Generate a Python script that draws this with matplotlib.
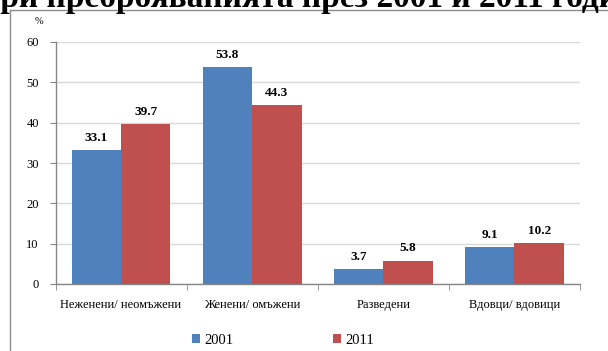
import matplotlib
matplotlib.use("Agg")
import matplotlib.pyplot as plt
from matplotlib.lines import Line2D
import numpy as np

categories = ["Неженени/ неомъжени", "Женени/ омъжени", "Разведени", "Вдовци/ вдовици"]
years = ["2001", "2011"]
values_2001 = [33.1, 53.8, 3.7, 9.1]
values_2011 = [39.7, 44.3, 5.8, 10.2]
yticks = [0, 10, 20, 30, 40, 50, 60]
title_text = "при преброяванията през 2001 и 2011 година"

W, H = 608, 351
fig = plt.figure(figsize=(W / 100, H / 100), dpi=100)
serif = ["Liberation Serif", "DejaVu Serif"]

# outer frame (left and top edges visible)
fig.add_artist(Line2D([10 / W, 10 / W], [0, 1 - 10 / H], color="#8c8c8c", lw=1.0, transform=fig.transFigure))
fig.add_artist(Line2D([10 / W, 1.0], [1 - 10 / H, 1 - 10 / H], color="#8c8c8c", lw=1.0, transform=fig.transFigure))

# cut-off title
fig.text(-19 / W, 1 - 7 / H, title_text, fontsize=24, fontweight="bold", family=serif,
         ha="left", va="baseline", color="black")

left, right = 55.5, 580
top, bottom = 42, 284
ax = fig.add_axes([left / W, 1 - bottom / H, (right - left) / W, (bottom - top) / H])

x = np.arange(len(categories))
bw = 0.377
blue = "#4F81BD"
red = "#C0504D"
b1 = ax.bar(x - bw / 2, values_2001, bw, color=blue, label=years[0], zorder=3)
b2 = ax.bar(x + bw / 2, values_2011, bw, color=red, label=years[1], zorder=3)

for bars, vals in ((b1, values_2001), (b2, values_2011)):
    for r, v in zip(bars, vals):
        ax.annotate(f"{v:.1f}", (r.get_x() + r.get_width() / 2, v), xytext=(0, 4.5),
                    textcoords="offset points", ha="center", va="bottom",
                    fontsize=9.5, fontweight="bold", family=serif)

ax.set_xlim(-0.5, len(categories) - 0.5)
ax.set_ylim(0, 60)
ax.set_yticks(yticks)
ax.set_yticklabels([str(t) for t in yticks], family=serif, fontsize=9)
ax.yaxis.grid(True, color="#d9d9d9", lw=1.0, zorder=0)
ax.set_axisbelow(True)

ax.set_xticks(x)
ax.set_xticklabels(categories, family=serif, fontsize=9)
ax.set_xticks(np.arange(-0.5, len(categories)), minor=True)
ax.tick_params(axis="x", which="major", length=0, pad=11)
ax.tick_params(axis="x", which="minor", length=4, color="#868686", direction="out")
ax.tick_params(axis="y", length=4, color="#868686", pad=8)

for s in ("top", "right"):
    ax.spines[s].set_visible(False)
for s in ("left", "bottom"):
    ax.spines[s].set_color("#868686")
    ax.spines[s].set_linewidth(1.0)

fig.text(39 / W, 1 - 21 / H, "%", fontsize=7.5, family=serif, ha="center", va="center")

leg = fig.legend(handles=[b1, b2], labels=years, loc="center", bbox_to_anchor=(283 / W, 1 - 340 / H),
                 ncol=2, frameon=False, prop={"family": serif, "size": 10.5},
                 handlelength=0.55, handleheight=0.55, handletextpad=0.3, columnspacing=6.8)

fig.savefig("out.png", dpi=100)
